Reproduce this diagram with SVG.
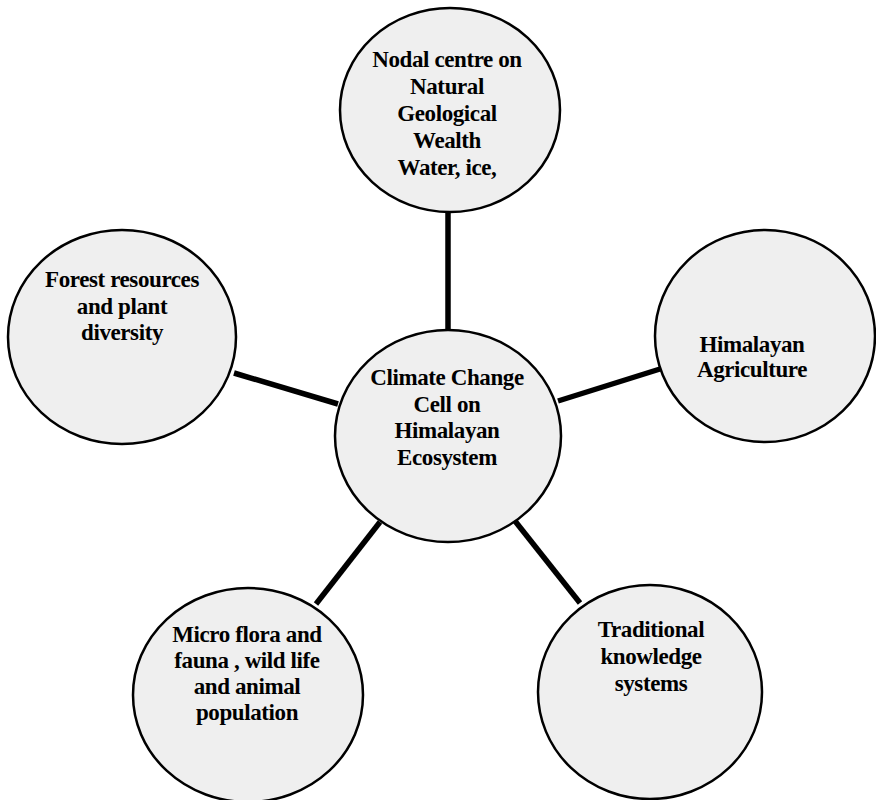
<svg xmlns="http://www.w3.org/2000/svg" width="876" height="800" viewBox="0 0 876 800">
<style>
.node ellipse { fill: #efefef; stroke: #000; stroke-width: 2.5; }
.node text { font-family: "Liberation Serif", "Times New Roman", serif; font-weight: bold; font-size: 23px; fill: #000; text-anchor: middle; letter-spacing: -0.4px; }
.conn line { stroke: #000; stroke-width: 5.5; stroke-linecap: butt; }
</style>
<rect width="876" height="800" fill="#fff"/>
<g id="connectors" class="conn">
<line x1="448" y1="211" x2="448" y2="331"/>
<line x1="234" y1="373" x2="338" y2="404"/>
<line x1="558" y1="401" x2="660" y2="369"/>
<line x1="380" y1="522" x2="316" y2="604"/>
<line x1="515" y1="521" x2="580" y2="603"/>
</g>
<g id="node-top" class="node">
<ellipse cx="450" cy="110" rx="110" ry="102"/>
<text x="447" y="67">Nodal centre on</text>
<text x="447" y="94">Natural</text>
<text x="447" y="121">Geological</text>
<text x="447" y="148">Wealth</text>
<text x="447" y="175">Water, ice,</text>
</g>
<g id="node-left" class="node">
<ellipse cx="122" cy="337" rx="114" ry="107"/>
<text x="122" y="287">Forest resources</text>
<text x="122" y="314">and plant</text>
<text x="122" y="340">diversity</text>
</g>
<g id="node-right" class="node">
<ellipse cx="765" cy="336" rx="110" ry="106"/>
<text x="752" y="352">Himalayan</text>
<text x="752" y="377">Agriculture</text>
</g>
<g id="node-center" class="node">
<ellipse cx="448" cy="436" rx="113" ry="106"/>
<text x="447" y="385">Climate Change</text>
<text x="447" y="412">Cell on</text>
<text x="447" y="438">Himalayan</text>
<text x="447" y="465">Ecosystem</text>
</g>
<g id="node-bottom-left" class="node">
<ellipse cx="248" cy="695" rx="115" ry="107"/>
<text x="247" y="642">Micro flora and</text>
<text x="247" y="668">fauna , wild life</text>
<text x="247" y="694">and animal</text>
<text x="247" y="720">population</text>
</g>
<g id="node-bottom-right" class="node">
<ellipse cx="650" cy="692" rx="112" ry="107"/>
<text x="651" y="637">Traditional</text>
<text x="651" y="664">knowledge</text>
<text x="651" y="691">systems</text>
</g>
</svg>
